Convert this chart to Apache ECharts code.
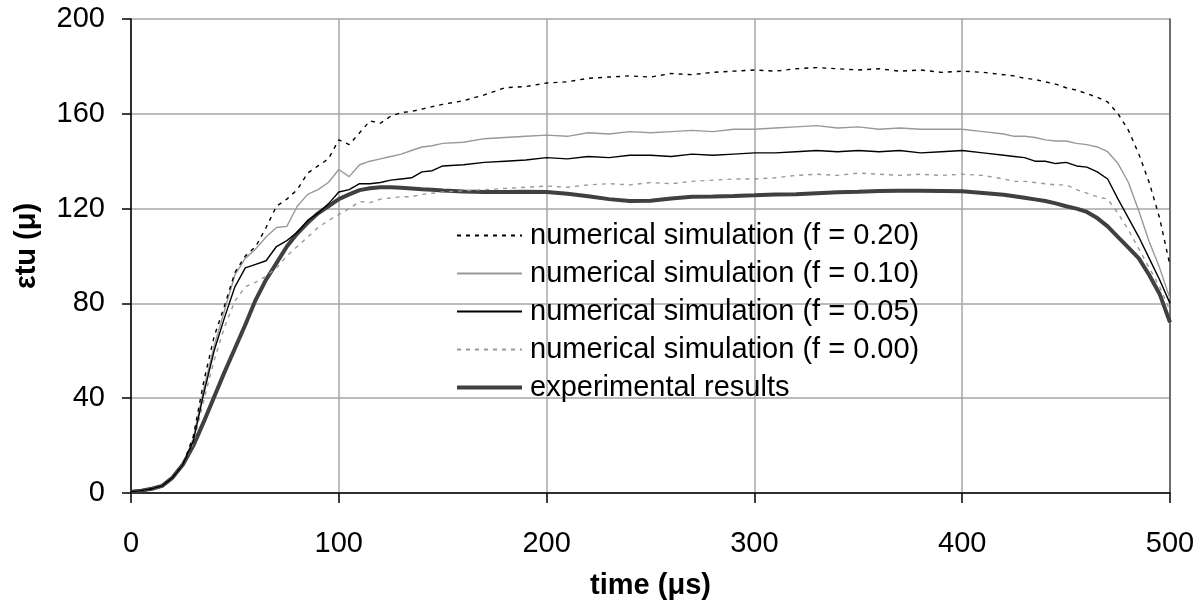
<!DOCTYPE html>
<html>
<head>
<meta charset="utf-8">
<script src="https://cdn.jsdelivr.net/npm/echarts@6/dist/echarts.min.js"></script>
<style>
  html, body { margin: 0; padding: 0; background: #fff; }
  #main { width: 1204px; height: 605px; }
</style>
</head>
<body>
<div id="main"></div>
<script>
// time axis (μs): finer steps on the rise and the fall
var time = [0, 5, 10, 15, 20, 25, 30, 35, 40, 45, 50, 55, 60, 65, 70, 75, 80, 85, 90, 95, 100,
  105, 110, 115, 120, 125, 130, 135, 140, 145, 150,
  160, 170, 180, 190, 200, 210, 220, 230, 240, 250, 260, 270, 280, 290, 300, 310, 320, 330, 340,
  350, 360, 370, 380, 390, 400, 410,
  420, 425, 430, 435, 440, 445, 450, 455, 460, 465, 470, 475, 480, 485, 490, 495, 500];

var sim020 = [0.5, 1, 1.8, 3, 6.5, 12, 24, 47, 66, 79, 93, 100, 104, 112, 121, 124, 128, 135, 138, 141, 149,
  147, 152, 157, 156, 159, 160.5, 161, 162, 163, 164,
  165.5, 168, 171, 171.5, 173, 173.5, 175, 175.5, 176, 175.5, 177, 176.5, 177.5, 178, 178.5, 178, 179, 179.5, 179,
  178.5, 179, 178, 178.5, 177.5, 178, 177.5,
  176.5, 176, 175, 174.5, 173.5, 172.5, 171, 170, 168.5, 167, 165, 160, 153, 143, 131, 116, 96];

var sim010 = [0.5, 1, 1.8, 3, 6.5, 12, 23, 44, 62, 77, 92, 99, 103, 108, 112, 112.5, 121, 126, 128, 131, 136.5,
  133.5, 138.5, 140, 141, 142, 143, 144.5, 146, 146.5, 147.5,
  148, 149.5, 150, 150.5, 151, 150.5, 152, 151.5, 152.5, 152, 152.5, 153, 152.5, 153.5, 153.5, 154, 154.5, 155, 154,
  154.5, 153.5, 154, 153.5, 153.5, 153.5, 152.5,
  151.5, 150.5, 150.5, 150, 149, 148.5, 148.5, 147.5, 147, 146, 144, 139, 131, 119, 106, 95, 82];

var sim005 = [0.5, 1, 1.8, 3, 6.5, 12, 22, 42, 60, 74, 87, 95, 96.5, 98, 104, 106.5, 110, 115, 118, 122, 127,
  128, 130.5, 130.5, 131, 132, 132.5, 133, 135.5, 136, 138,
  138.5, 139.5, 140, 140.5, 141.5, 141, 142, 141.5, 142.5, 142.5, 142, 143, 142.5, 143, 143.5, 143.5, 144, 144.5, 144,
  144.5, 144, 144.5, 143.5, 144, 144.5, 143.5,
  142.5, 142, 141.5, 140, 140, 139, 139.5, 138, 137.5, 135.5, 132.5, 124, 116, 108, 99, 90, 80];

var sim000 = [0.5, 1, 1.8, 3, 6.5, 12, 21, 39, 56, 70, 81, 87, 89, 91.5, 95, 100, 104, 108, 112, 115, 117.5,
  120, 123, 122.5, 124, 124.5, 125, 125, 126, 126.5, 127,
  127.5, 128, 128.5, 129, 129.5, 129, 130, 130.5, 130, 131, 130.5, 131.5, 132, 132.5, 132.5, 133, 134, 134.5, 134,
  135, 134.5, 134, 134.5, 134, 134.5, 134,
  132.5, 131.5, 131.5, 131, 130.5, 130, 130, 128, 126.5, 125, 124, 118, 111, 103, 95, 87, 77];

var experimental = [0.5, 1, 1.8, 3, 6.5, 12, 20, 30, 40.5, 51, 61, 71, 81.5, 90, 97, 104, 109.5, 114, 118, 121, 124,
  126, 127.8, 128.6, 129, 129, 128.8, 128.5, 128.2, 128, 127.6,
  127.2, 127, 127, 127.1, 127, 126.3, 125.2, 124, 123.2, 123.3, 124.3, 125, 125.1, 125.3, 125.6, 126, 126.1, 126.5, 126.9,
  127.1, 127.4, 127.5, 127.5, 127.4, 127.3, 126.6,
  125.8, 125.2, 124.6, 123.9, 123.2, 122.2, 121, 120, 118.6, 116, 112.5, 108, 103.5, 99, 92, 84, 72];

var seriesNames = [
  'numerical simulation (f = 0.20)',
  'numerical simulation (f = 0.10)',
  'numerical simulation (f = 0.05)',
  'numerical simulation (f = 0.00)',
  'experimental results'
];

function pairs(values) {
  return time.map(function (t, i) { return [t, values[i]]; });
}

var font = '"Liberation Sans", Arial, sans-serif';
var chartDom = document.getElementById('main');
var myChart = echarts.init(chartDom);
var option;

function lineSeries(name, values, color, width, dashed, z) {
  return {
    name: name,
    type: 'line',
    symbol: 'none',
    z: z,
    data: pairs(values),
    lineStyle: { color: color, width: width, type: dashed ? [4, 5] : 'solid' },
    itemStyle: { color: color }
  };
}

option = {
  animation: false,
  backgroundColor: '#fff',
  textStyle: { fontFamily: font },
  grid: { left: 131, right: 34, top: 19, bottom: 105 },
  legend: {
    orient: 'vertical',
    left: 450,
    top: 216,
    itemWidth: 65,
    itemHeight: 14,
    itemGap: 9,
    data: seriesNames.slice(0, 4).concat([{ name: seriesNames[4], lineStyle: { width: 4 } }]),
    // hide the marker, keep the line sample
    itemStyle: { opacity: 0 },
    textStyle: { fontFamily: font, fontSize: 29, color: '#000', padding: [0, 0, 0, 3] }
  },
  xAxis: {
    type: 'value',
    min: 0,
    max: 500,
    interval: 100,
    name: 'time (μs)',
    nameLocation: 'middle',
    nameGap: 78,
    nameTextStyle: { fontFamily: font, fontSize: 29, fontWeight: 'bold', color: '#000' },
    axisLine: { lineStyle: { color: '#000', width: 1.5 } },
    axisTick: { show: true, length: 10, lineStyle: { color: '#000', width: 1.5 } },
    axisLabel: { fontFamily: font, fontSize: 29, color: '#000', margin: 36 },
    splitLine: { show: true, lineStyle: { color: '#a6a6a6', width: 1.5 } }
  },
  yAxis: [{
    type: 'value',
    min: 0,
    max: 200,
    interval: 40,
    name: 'εtu (μ)',
    nameLocation: 'middle',
    nameGap: 90,
    nameRotate: 90,
    nameTextStyle: { fontFamily: font, fontSize: 29, fontWeight: 'bold', color: '#000', padding: [0, 0, 0, 20] },
    axisLine: { show: true, lineStyle: { color: '#000', width: 1.5 } },
    axisTick: { show: true, length: 9, lineStyle: { color: '#000', width: 1.5 } },
    axisLabel: { fontFamily: font, fontSize: 29, color: '#000', margin: 26 },
    splitLine: { show: true, lineStyle: { color: '#a6a6a6', width: 1.5 } }
  }, {
    type: 'value',
    position: 'right',
    min: 0,
    max: 200,
    interval: 40,
    axisLine: { show: true, lineStyle: { color: '#555', width: 1.5 } },
    axisTick: { show: false },
    axisLabel: { show: false },
    splitLine: { show: false }
  }],
  series: [
    lineSeries(seriesNames[0], sim020, '#000', 1.4, true, 5),
    lineSeries(seriesNames[1], sim010, '#999', 1.4, false, 4),
    lineSeries(seriesNames[2], sim005, '#000', 1.4, false, 4),
    lineSeries(seriesNames[3], sim000, '#999', 1.4, true, 3),
    lineSeries(seriesNames[4], experimental, '#404040', 4, false, 2)
  ]
};

if (chartDom && myChart) {
  myChart.setOption(option);
} else {
  console.error('Failed to initialize the chart');
}
</script>
</body>
</html>
